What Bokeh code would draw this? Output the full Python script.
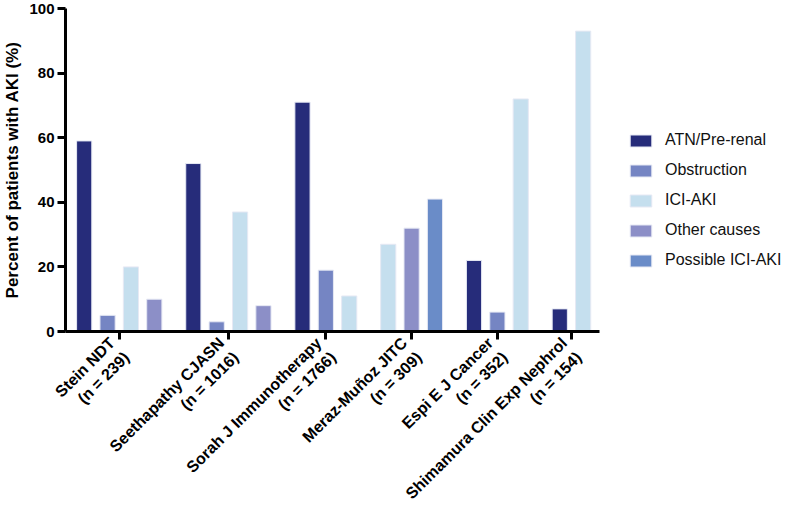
import math
from bokeh.plotting import figure
from bokeh.models import ColumnDataSource, FixedTicker, Legend, LegendItem, Range1d
from bokeh.embed import file_html
from bokeh.resources import INLINE

# ---- data ----
studies = [
    "Stein NDT\n(n = 239)",
    "Seethapathy CJASN\n(n = 1016)",
    "Sorah J Immunotherapy\n(n = 1766)",
    "Meraz-Muñoz JITC\n(n = 309)",
    "Espi E J Cancer\n(n = 352)",
    "Shimamura Clin Exp Nephrol\n(n = 154)",
]
series_names = ["ATN/Pre-renal", "Obstruction", "ICI-AKI", "Other causes", "Possible ICI-AKI"]
atn = [59, 52, 71, None, 22, 7]
obstruction = [5, 3, 19, None, 6, None]
ici_aki = [20, 37, 11, 27, 72, 93]
other_causes = [10, 8, None, 32, None, None]
possible_ici_aki = [None, None, None, 41, None, None]
colors = ["#262C7A", "#7585C3", "#C5DFEE", "#8C8FC7", "#6A8CC8"]

series_values = [atn, obstruction, ici_aki, other_causes, possible_ici_aki]

# ---- layout of bars: only present bars are drawn, packed within each group ----
group_gap = 0.67
xs = {i: [] for i in range(len(series_names))}
ys = {i: [] for i in range(len(series_names))}
tick_pos = []
pos = 0.0
for g in range(len(studies)):
    group_positions = []
    for s, vals in enumerate(series_values):
        v = vals[g]
        if v is None:
            continue
        xs[s].append(pos)
        ys[s].append(v)
        group_positions.append(pos)
        pos += 1.0
    tick_pos.append(sum(group_positions) / len(group_positions))
    pos += group_gap
last_pos = pos - 1.0 - group_gap

p = figure(width=775, height=502, output_backend="svg", toolbar_location=None,
           x_range=Range1d(-0.80, last_pos + 0.70), y_range=Range1d(0, 100),
           min_border_left=60, min_border_top=8, min_border_right=181,
           frame_width=534, frame_height=323)
p.outline_line_color = None
p.grid.visible = False
p.background_fill_color = "white"
p.border_fill_color = "white"

renderers = []
for s, name in enumerate(series_names):
    src = ColumnDataSource(dict(x=xs[s], top=ys[s]))
    r = p.vbar(x="x", top="top", width=0.65, bottom=0, source=src,
               fill_color=colors[s], line_color="#E6E9F4", line_width=1)
    renderers.append((name, r))

# axes
for ax in (p.xaxis[0], p.yaxis[0]):
    ax.axis_line_width = 3
    ax.axis_line_color = "black"
    ax.major_tick_line_width = 3
    ax.major_tick_line_color = "black"
    ax.major_tick_out = 8
    ax.major_tick_in = 0
    ax.minor_tick_line_color = None
    ax.major_label_text_font = "Liberation Sans"
    ax.major_label_text_font_style = "bold"
    ax.major_label_text_color = "black"

p.yaxis.ticker = FixedTicker(ticks=[0, 20, 40, 60, 80, 100])
p.yaxis.major_label_text_font_size = "15px"
p.yaxis.major_label_standoff = 3
p.yaxis.axis_label = "Percent of patients with AKI (%)"
p.yaxis.axis_label_text_font = "Liberation Sans"
p.yaxis.axis_label_text_font_style = "bold"
p.yaxis.axis_label_text_font_size = "17px"
p.yaxis.axis_label_text_color = "black"
p.yaxis.axis_label_standoff = 4

p.xaxis.ticker = FixedTicker(ticks=tick_pos)
p.xaxis.major_label_overrides = {t: lab for t, lab in zip(tick_pos, studies)}
p.xaxis.major_label_orientation = math.pi / 4
p.xaxis.major_label_text_font_size = "16px"
p.xaxis.major_label_standoff = 8

legend = Legend(items=[LegendItem(label=n, renderers=[r]) for n, r in renderers],
                location=(28, 61), orientation="vertical")
legend.border_line_color = None
legend.background_fill_alpha = 0
legend.padding = 0
legend.margin = 0
legend.glyph_width = 27
legend.glyph_height = 15
legend.label_height = 20
legend.spacing = 10
legend.label_standoff = 11
legend.label_text_font = "Liberation Sans"
legend.label_text_font_size = "16px"
legend.label_text_color = "#111111"
p.add_layout(legend, "right")

open("out.html", "w").write(file_html(p, INLINE))
